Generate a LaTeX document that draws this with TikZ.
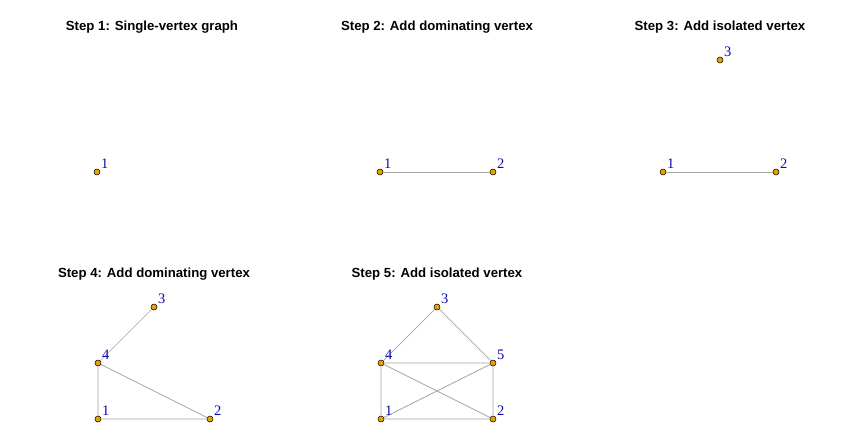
\documentclass[tikz,border=0pt]{standalone}
\usepackage{fontspec}
\setmainfont{Liberation Serif}
\newfontfamily\titlefont{Liberation Sans}
\definecolor{vfill}{RGB}{235,160,0}
\definecolor{vlab}{RGB}{10,10,170}
\definecolor{edgec}{RGB}{165,165,165}
\begin{document}
\begin{tikzpicture}[x=1pt,y=-1pt,
  vtx/.style={circle,draw=black,fill=vfill,line width=0.5pt,inner sep=0pt,minimum size=6pt},
  vl/.style={text=vlab,font=\fontsize{14.5}{14.5}\selectfont,anchor=south west,inner sep=0pt},
  ttl/.style={font=\titlefont\bfseries\fontsize{13.2}{14}\selectfont,anchor=center},
  edg/.style={draw=edgec,line width=0.7pt}]
\useasboundingbox (0,0) rectangle (850,443);
% titles
\node[ttl] (t1) at (152,27) {Step 1: Single-vertex graph};
\node[ttl] (t2) at (437,27) {Step 2: Add dominating vertex};
\node[ttl] (t3) at (720,27) {Step 3: Add isolated vertex};
\node[ttl] (t4) at (154,274) {Step 4: Add dominating vertex};
\node[ttl] (t5) at (437,274) {Step 5: Add isolated vertex};
% panel 1
\node[vtx] (a1) at (97,172) {};
% panel 2
\node[vtx] (b1) at (380,172) {};
\node[vtx] (b2) at (493,172) {};
\draw[edg] (b1) -- (b2);
% panel 3
\node[vtx] (c1) at (663,172) {};
\node[vtx] (c2) at (776,172) {};
\node[vtx] (c3) at (720,60) {};
\draw[edg] (c1) -- (c2);
% panel 4
\node[vtx] (d1) at (98,419) {};
\node[vtx] (d2) at (210,419) {};
\node[vtx] (d3) at (154,307) {};
\node[vtx] (d4) at (98,363) {};
\draw[edg] (d1) -- (d2) (d4) -- (d1) (d4) -- (d2) (d4) -- (d3);
% panel 5
\node[vtx] (e1) at (381,419) {};
\node[vtx] (e2) at (493,419) {};
\node[vtx] (e3) at (437,307) {};
\node[vtx] (e4) at (381,363) {};
\node[vtx] (e5) at (493,363) {};
\draw[edg] (e1) -- (e2) (e4) -- (e1) (e4) -- (e2) (e4) -- (e3) (e4) -- (e5)
  (e5) -- (e3) (e5) -- (e1) (e5) -- (e2);
% labels
\foreach \n/\t in {a1/1,b1/1,b2/2,c1/1,c2/2,c3/3,d1/1,d2/2,d3/3,d4/4,e1/1,e2/2,e3/3,e4/4,e5/5}
  \node[vl] (l\n) at ([xshift=4pt,yshift=3pt]\n.center) {\t};
\end{tikzpicture}
\end{document}
